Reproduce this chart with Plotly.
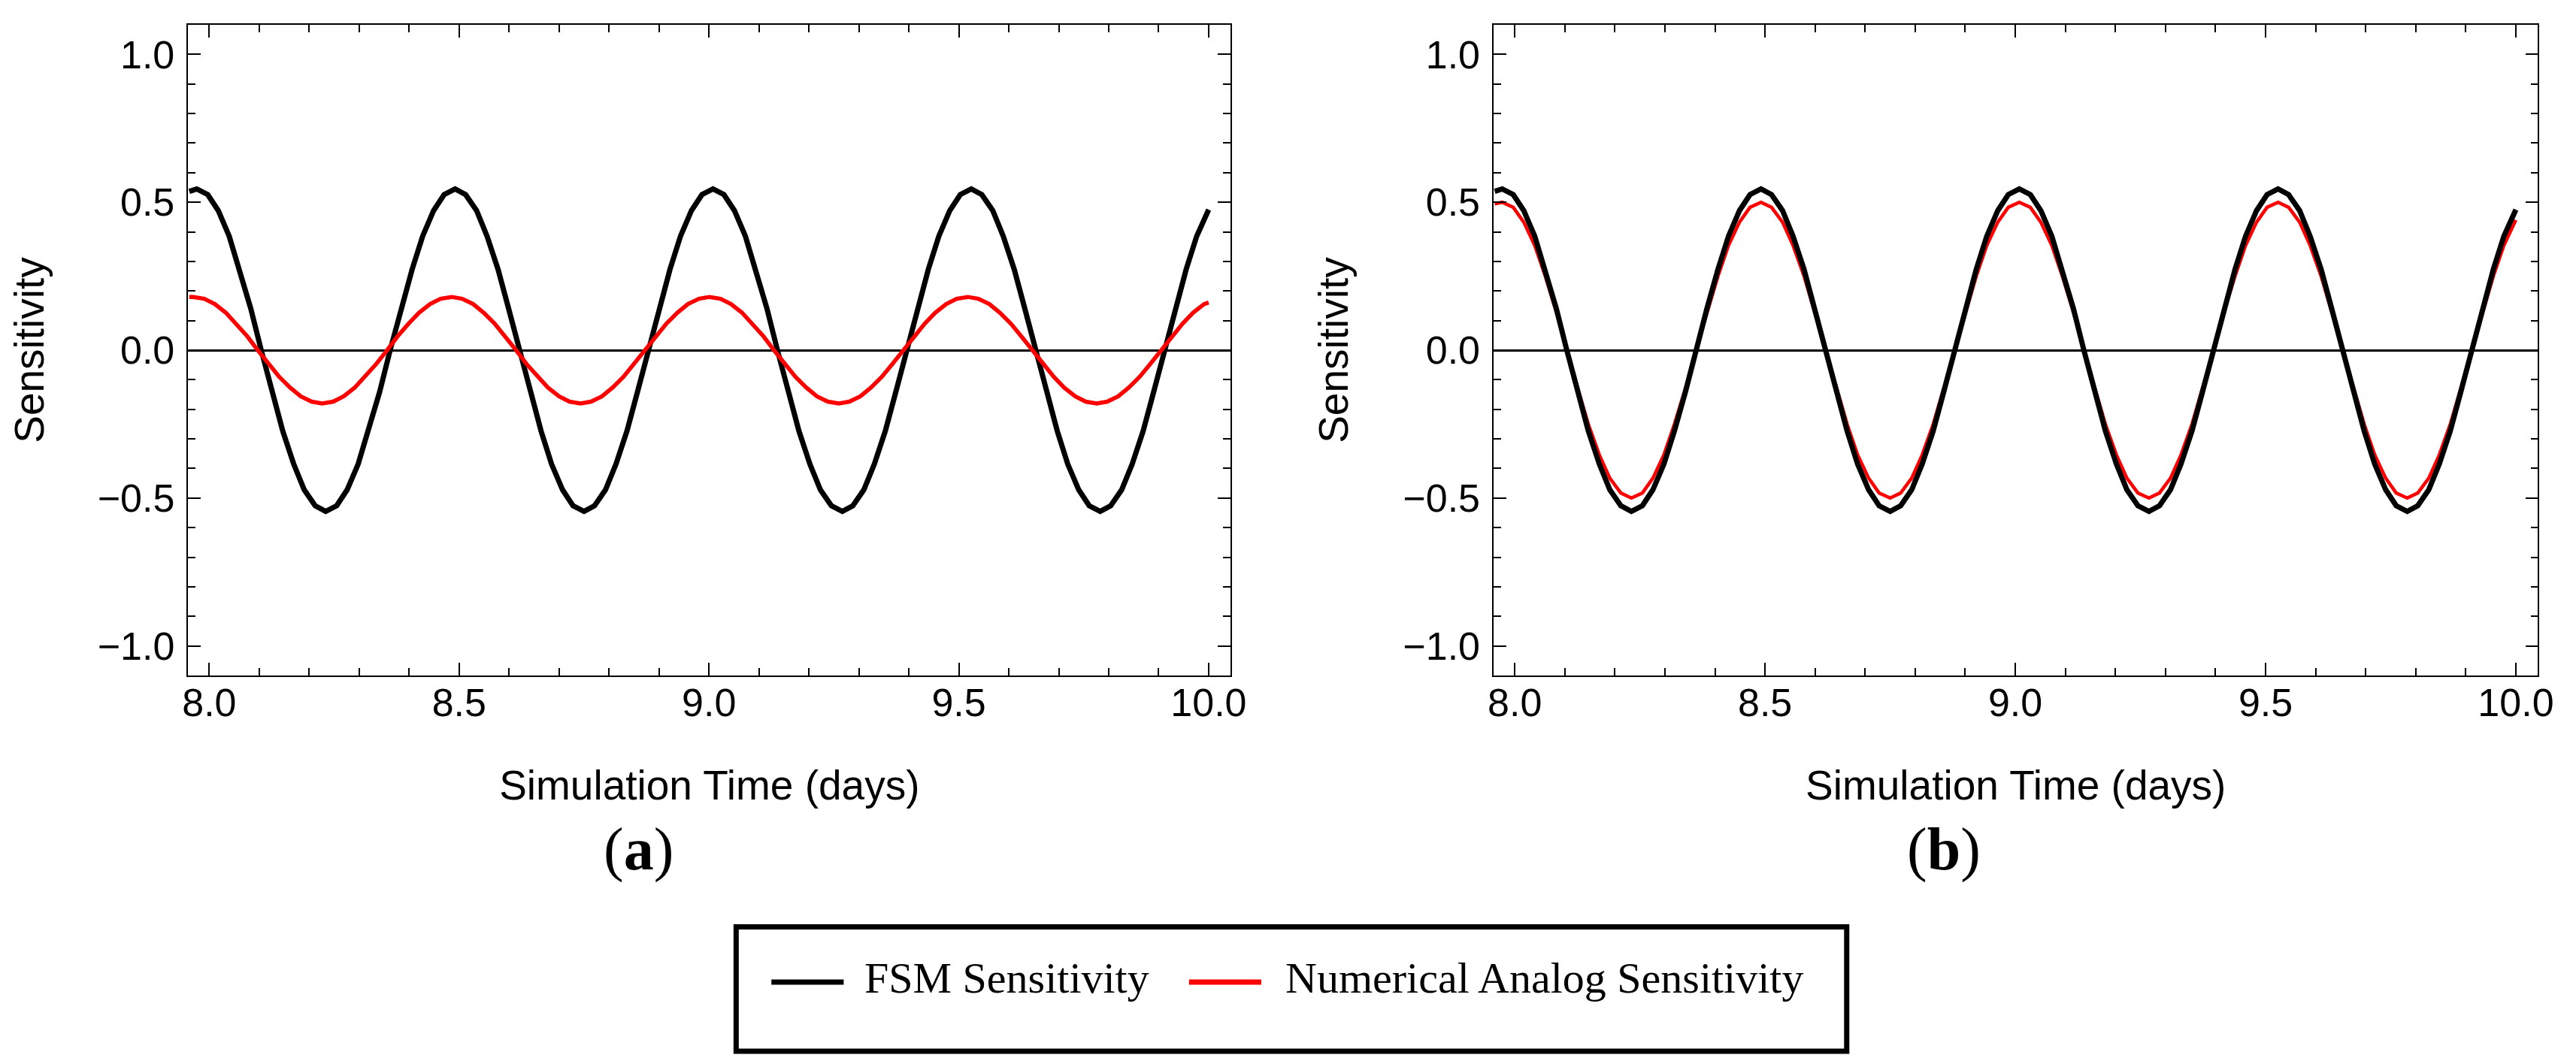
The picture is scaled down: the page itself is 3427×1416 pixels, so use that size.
import plotly.graph_objects as go

# simulation time (days) and FSM sensitivity
t_fsm = [7.96,
         7.975, 7.997, 8.018, 8.040, 8.061, 8.083, 8.104, 8.126, 8.147, 8.169, 8.190, 8.212,
         8.233, 8.255, 8.276, 8.298, 8.319, 8.341, 8.362, 8.384, 8.406, 8.427, 8.449, 8.470,
         8.492, 8.513, 8.535, 8.556, 8.578, 8.599, 8.621, 8.642, 8.664, 8.685, 8.707, 8.728,
         8.750, 8.771, 8.793, 8.814, 8.836, 8.857, 8.879, 8.900, 8.922, 8.943, 8.965, 8.986,
         9.008, 9.030, 9.051, 9.073, 9.094, 9.116, 9.137, 9.159, 9.180, 9.202, 9.223, 9.245,
         9.267, 9.288, 9.310, 9.331, 9.353, 9.374, 9.396, 9.417, 9.439, 9.460, 9.482, 9.503,
         9.525, 9.546, 9.568, 9.589, 9.611, 9.632, 9.654, 9.675, 9.697, 9.718, 9.740, 9.761,
         9.783, 9.804, 9.826, 9.847, 9.869, 9.890, 9.912, 9.933, 9.955, 9.976, 10.0]
s_fsm = [0.537,
         0.545, 0.526, 0.472, 0.385, 0.273, 0.141, 0.0, -0.141, -0.273, -0.385, -0.472, -0.526,
         -0.545, -0.526, -0.472, -0.385, -0.273, -0.141, 0.0, 0.141, 0.273, 0.385, 0.472, 0.526,
         0.545, 0.526, 0.472, 0.385, 0.273, 0.141, 0.0, -0.141, -0.273, -0.385, -0.472, -0.526,
         -0.545, -0.526, -0.472, -0.385, -0.273, -0.141, 0.0, 0.141, 0.273, 0.385, 0.472, 0.526,
         0.545, 0.526, 0.472, 0.385, 0.273, 0.141, 0.0, -0.141, -0.273, -0.385, -0.472, -0.526,
         -0.545, -0.526, -0.472, -0.385, -0.273, -0.141, 0.0, 0.141, 0.273, 0.385, 0.472, 0.526,
         0.545, 0.526, 0.472, 0.385, 0.273, 0.141, 0.0, -0.141, -0.273, -0.385, -0.472, -0.526,
         -0.545, -0.526, -0.472, -0.385, -0.273, -0.141, 0.0, 0.141, 0.273, 0.385, 0.475]

# panel (a): numerical analog sensitivity, small amplitude, slightly leading
t_num_a = [7.96,
           7.968, 7.990, 8.011, 8.033, 8.054, 8.076, 8.097, 8.119, 8.140, 8.162, 8.183, 8.205,
           8.226, 8.248, 8.269, 8.291, 8.312, 8.334, 8.356, 8.377, 8.399, 8.420, 8.442, 8.463,
           8.485, 8.506, 8.528, 8.549, 8.571, 8.592, 8.614, 8.635, 8.657, 8.678, 8.700, 8.721,
           8.743, 8.764, 8.786, 8.807, 8.829, 8.850, 8.872, 8.894, 8.915, 8.937, 8.958, 8.980,
           9.001, 9.023, 9.044, 9.066, 9.087, 9.109, 9.130, 9.152, 9.173, 9.195, 9.216, 9.238,
           9.260, 9.281, 9.303, 9.324, 9.346, 9.367, 9.389, 9.410, 9.432, 9.453, 9.475, 9.496,
           9.518, 9.539, 9.561, 9.582, 9.604, 9.625, 9.647, 9.668, 9.690, 9.711, 9.733, 9.754,
           9.776, 9.797, 9.819, 9.840, 9.862, 9.883, 9.905, 9.926, 9.948, 9.969, 9.991, 10.0]
s_num_a = [0.1795,
           0.18, 0.174, 0.156, 0.127, 0.09, 0.047, 0.0, -0.047, -0.09, -0.127, -0.156, -0.174,
           -0.18, -0.174, -0.156, -0.127, -0.09, -0.047, 0.0, 0.047, 0.09, 0.127, 0.156, 0.174,
           0.18, 0.174, 0.156, 0.127, 0.09, 0.047, 0.0, -0.047, -0.09, -0.127, -0.156, -0.174,
           -0.18, -0.174, -0.156, -0.127, -0.09, -0.047, 0.0, 0.047, 0.09, 0.127, 0.156, 0.174,
           0.18, 0.174, 0.156, 0.127, 0.09, 0.047, 0.0, -0.047, -0.09, -0.127, -0.156, -0.174,
           -0.18, -0.174, -0.156, -0.127, -0.09, -0.047, 0.0, 0.047, 0.09, 0.127, 0.156, 0.174,
           0.18, 0.174, 0.156, 0.127, 0.09, 0.047, 0.0, -0.047, -0.09, -0.127, -0.156, -0.174,
           -0.18, -0.174, -0.156, -0.127, -0.09, -0.047, 0.0, 0.047, 0.09, 0.127, 0.156, 0.161]

# panel (b): numerical analog sensitivity, close to FSM
t_num_b = t_fsm
s_num_b = [0.495,
           0.50, 0.483, 0.433, 0.354, 0.25, 0.129, 0.0, -0.129, -0.25, -0.354, -0.433, -0.483,
           -0.50, -0.483, -0.433, -0.354, -0.25, -0.129, 0.0, 0.129, 0.25, 0.354, 0.433, 0.483,
           0.50, 0.483, 0.433, 0.354, 0.25, 0.129, 0.0, -0.129, -0.25, -0.354, -0.433, -0.483,
           -0.50, -0.483, -0.433, -0.354, -0.25, -0.129, 0.0, 0.129, 0.25, 0.354, 0.433, 0.483,
           0.50, 0.483, 0.433, 0.354, 0.25, 0.129, 0.0, -0.129, -0.25, -0.354, -0.433, -0.483,
           -0.50, -0.483, -0.433, -0.354, -0.25, -0.129, 0.0, 0.129, 0.25, 0.354, 0.433, 0.483,
           0.50, 0.483, 0.433, 0.354, 0.25, 0.129, 0.0, -0.129, -0.25, -0.354, -0.433, -0.483,
           -0.50, -0.483, -0.433, -0.354, -0.25, -0.129, 0.0, 0.129, 0.25, 0.354, 0.44]

names = ["FSM Sensitivity", "Numerical Analog Sensitivity"]
panel_labels = ["(<b>a</b>)", "(<b>b</b>)"]

W, H = 3427, 1416
SANS = "Liberation Sans, Arial, sans-serif"
SERIF = "Liberation Serif, Times New Roman, serif"

fig = go.Figure()

fig.add_trace(go.Scatter(x=t_fsm, y=s_fsm, name=names[0], mode="lines",
                         line=dict(color="black", width=7),
                         xaxis="x", yaxis="y", showlegend=False))
fig.add_trace(go.Scatter(x=t_num_a, y=s_num_a, name=names[1], mode="lines",
                         line=dict(color="red", width=5.5),
                         xaxis="x", yaxis="y", showlegend=False))
fig.add_trace(go.Scatter(x=t_num_b, y=s_num_b, name=names[1], mode="lines",
                         line=dict(color="red", width=4.5),
                         xaxis="x2", yaxis="y2", showlegend=False))
fig.add_trace(go.Scatter(x=t_fsm, y=s_fsm, name=names[0], mode="lines",
                         line=dict(color="black", width=7),
                         xaxis="x2", yaxis="y2", showlegend=False))


def xax(domain, anchor):
    return dict(domain=domain, anchor=anchor, range=[7.958, 10.044],
                tick0=8.0, dtick=0.5, tickformat=".1f",
                ticks="inside", ticklen=17, tickwidth=1.5, tickcolor="black",
                minor=dict(tick0=8.0, dtick=0.1, ticks="inside", ticklen=10,
                           tickwidth=1.5, tickcolor="black"),
                showline=True, linecolor="black", linewidth=1.5, mirror="allticks",
                showgrid=False, zeroline=False, ticklabelstandoff=-10,
                tickfont=dict(family=SANS, size=52, color="black"),
                title=dict(text="Simulation Time (days)", standoff=62,
                           font=dict(family=SANS, size=55, color="black")))


def yax(domain, anchor):
    return dict(domain=domain, anchor=anchor, range=[-1.1, 1.1],
                tick0=0, dtick=0.5, tickformat=".1f",
                ticks="inside", ticklen=17, tickwidth=1.5, tickcolor="black",
                minor=dict(tick0=0, dtick=0.1, ticks="inside", ticklen=10,
                           tickwidth=1.5, tickcolor="black"),
                showline=True, linecolor="black", linewidth=1.5, mirror="allticks",
                showgrid=False, zeroline=True, zerolinecolor="black", zerolinewidth=2.5,
                ticklabelstandoff=6,
                tickfont=dict(family=SANS, size=52, color="black"),
                title=dict(text="Sensitivity", standoff=55,
                           font=dict(family=SANS, size=55, color="black")))


ydom = [0.3708, 0.9823]
fig.update_layout(
    width=W, height=H,
    margin=dict(l=0, r=0, t=0, b=0),
    paper_bgcolor="white", plot_bgcolor="white",
    xaxis=xax([0.0690, 0.4771], "y"),
    yaxis=yax(ydom, "x"),
    xaxis2=xax([0.5801, 0.9889], "y2"),
    yaxis2=yax(ydom, "x2"),
)

# panel labels under the x titles
for lab, xp in zip(panel_labels, [0.2454, 0.7564]):
    fig.add_annotation(text=lab, x=xp, y=0.2075, xref="paper", yref="paper",
                       showarrow=False, xanchor="center", yanchor="middle",
                       font=dict(family=SERIF, size=80, color="black"))

# framed legend below both panels
fig.add_shape(type="rect", xref="paper", yref="paper",
              x0=0.2835, x1=0.7183, y0=0.0176, y1=0.1346,
              line=dict(color="black", width=7), fillcolor="white")
key_y = 0.0826
for (k0, k1), col, (tx, txt) in zip([(0.2973, 0.3256), (0.4608, 0.4891)],
                                    ["black", "red"],
                                    [(0.3332, names[0]), (0.4978, names[1])]):
    fig.add_shape(type="line", xref="paper", yref="paper",
                  x0=k0, x1=k1, y0=key_y, y1=key_y,
                  line=dict(color=col, width=7))
    fig.add_annotation(text=txt, x=tx, y=0.0862, xref="paper", yref="paper",
                       showarrow=False, xanchor="left", yanchor="middle",
                       font=dict(family=SERIF, size=58, color="black"))

fig.write_html("out.html")
